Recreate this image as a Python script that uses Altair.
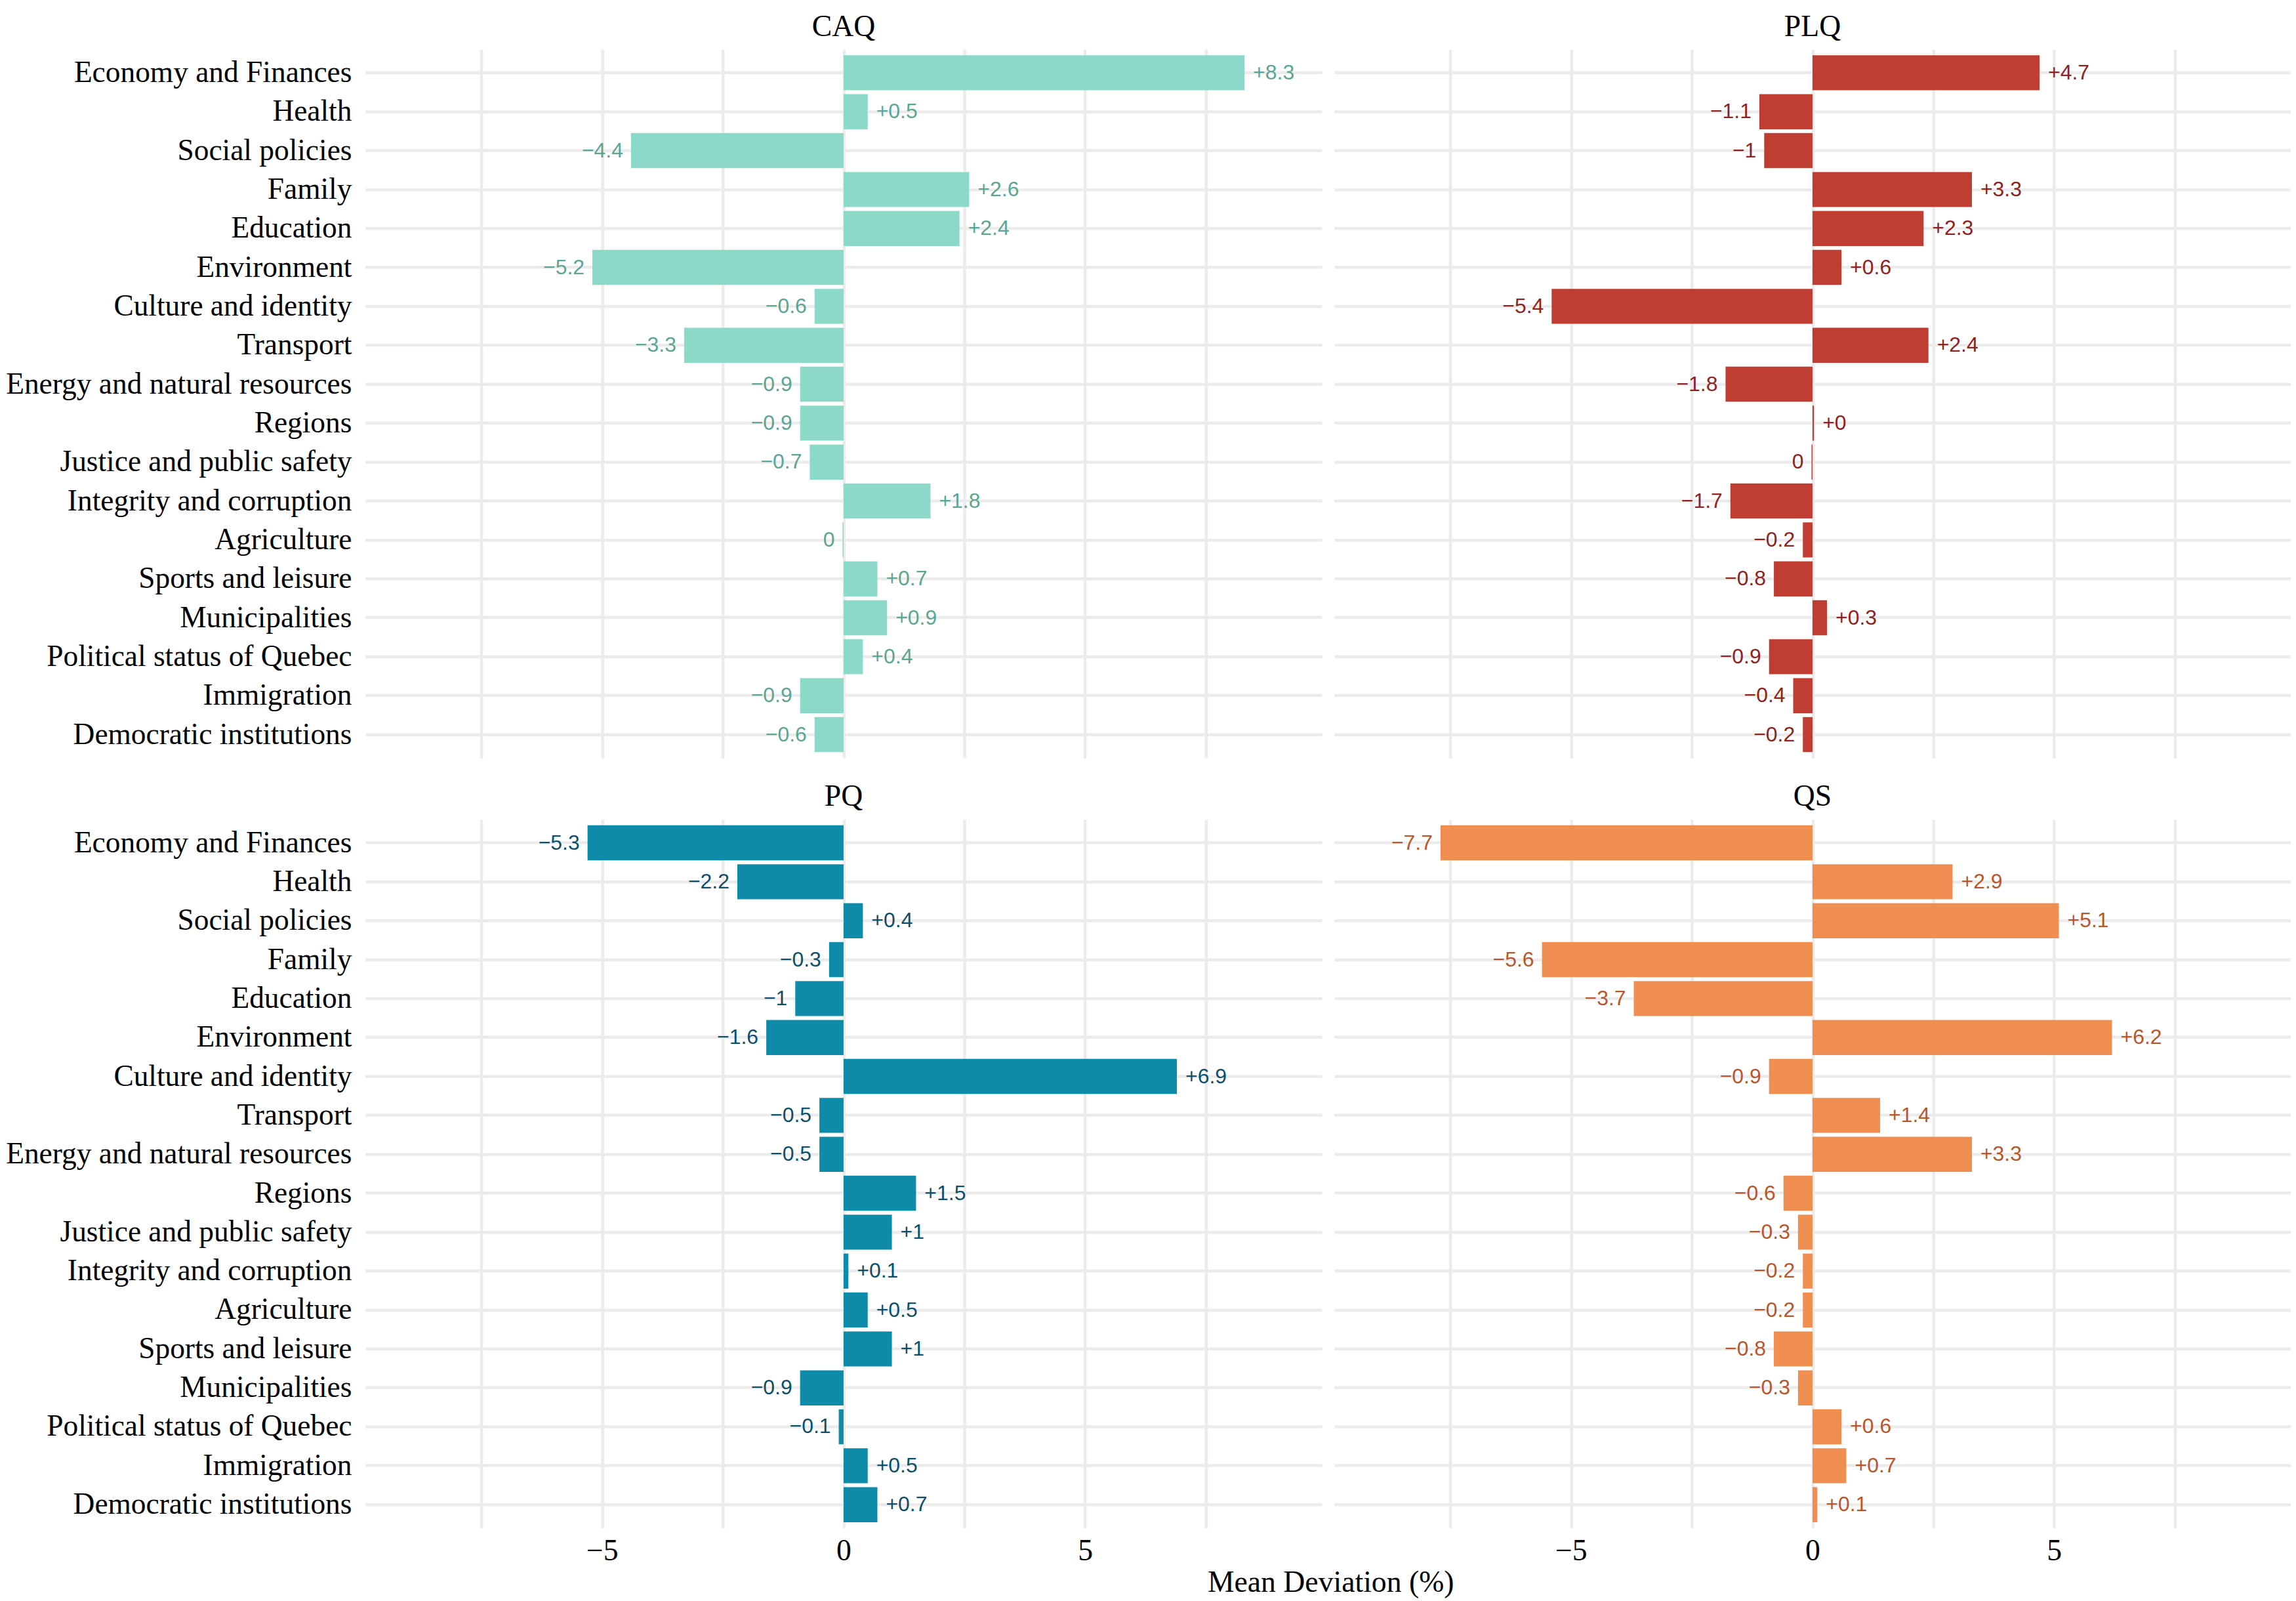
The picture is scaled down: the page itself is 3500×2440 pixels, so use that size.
import altair as alt
import pandas as pd

categories = [
    "Economy and Finances", "Health", "Social policies", "Family", "Education",
    "Environment", "Culture and identity", "Transport", "Energy and natural resources",
    "Regions", "Justice and public safety", "Integrity and corruption", "Agriculture",
    "Sports and leisure", "Municipalities", "Political status of Quebec",
    "Immigration", "Democratic institutions",
]

caq = [8.3, 0.5, -4.4, 2.6, 2.4, -5.2, -0.6, -3.3, -0.9, -0.9, -0.7, 1.8, -0.02, 0.7, 0.9, 0.4, -0.9, -0.6]
plq = [4.7, -1.1, -1.0, 3.3, 2.3, 0.6, -5.4, 2.4, -1.8, 0.03, -0.02, -1.7, -0.2, -0.8, 0.3, -0.9, -0.4, -0.2]
pq = [-5.3, -2.2, 0.4, -0.3, -1.0, -1.6, 6.9, -0.5, -0.5, 1.5, 1.0, 0.1, 0.5, 1.0, -0.9, -0.1, 0.5, 0.7]
qs = [-7.7, 2.9, 5.1, -5.6, -3.7, 6.2, -0.9, 1.4, 3.3, -0.6, -0.3, -0.2, -0.2, -0.8, -0.3, 0.6, 0.7, 0.1]

parties = ["CAQ", "PLQ", "PQ", "QS"]
series = [caq, plq, pq, qs]
bar_colors = ["#8DD9C9", "#C03D32", "#0E8BA8", "#F08E52"]
label_colors = ["#5BA595", "#8E2220", "#0B4F6B", "#B9552A"]

x_grid_values = [-7.5, -5, -2.5, 0, 2.5, 5, 7.5]

SERIF = "Liberation Serif"
SANS = "Liberation Sans"
GRID = "#EBEBEB"
PANEL_W = 1461
PANEL_H = 1082


def fmt(v):
    r = round(v, 1)
    if v > 0:
        return "+" + f"{abs(r):g}"
    if r == 0:
        return "0"
    return "\u2212" + f"{abs(r):g}"


def panel(name, values, bar_color, label_color, show_y, show_x):
    df = pd.DataFrame({
        "topic": categories,
        "value": values,
        "label": [fmt(v) for v in values],
    })
    yaxis = alt.Axis(
        title=None, labels=show_y, ticks=False, domain=False, grid=True,
        gridColor=GRID, gridWidth=4.5, bandPosition=0.5,
        labelFont=SERIF, labelFontSize=45.5, labelColor="#000000",
        labelPadding=21 if show_y else 0, labelLimit=0,
    )
    xaxis = alt.Axis(
        title=None, values=x_grid_values, labels=show_x,
        labelExpr="abs(datum.value) % 5 == 0 ? datum.label : ''",
        labelOverlap=False, ticks=False, domain=False, grid=True,
        gridColor=GRID, gridWidth=4.5,
        labelFont=SERIF, labelFontSize=45.8, labelColor="#000000",
        labelPadding=13 if show_x else 0,
    )
    y = alt.Y("topic:N", sort=categories,
              scale=alt.Scale(paddingInner=0.1, paddingOuter=0.15), axis=yaxis)
    x = alt.X("value:Q", scale=alt.Scale(domain=[-9.9, 9.9], nice=False, zero=False),
              axis=xaxis)
    base = alt.Chart(df)
    bars = base.mark_bar(color=bar_color).encode(x=x, x2=alt.datum(0), y=y)
    pos = base.transform_filter("datum.value > 0").mark_text(
        align="left", baseline="middle", dx=13, font=SANS, fontSize=32, color=label_color
    ).encode(x=x, y=y, text="label:N")
    neg = base.transform_filter("datum.value <= 0").mark_text(
        align="right", baseline="middle", dx=-12, font=SANS, fontSize=32, color=label_color
    ).encode(x=x, y=y, text="label:N")
    return alt.layer(bars, pos, neg).properties(
        width=PANEL_W, height=PANEL_H,
        title=alt.TitleParams(name, font=SERIF, fontSize=45.8, fontWeight="normal",
                              color="#000000", anchor="middle", frame="group", offset=11),
    )


p = [panel(parties[i], series[i], bar_colors[i], label_colors[i],
           show_y=(i % 2 == 0), show_x=(i >= 2)) for i in range(4)]

chart = alt.vconcat(
    alt.hconcat(p[0], p[1], spacing=19),
    alt.hconcat(p[2], p[3], spacing=19),
    spacing=36,
).properties(
    title=alt.TitleParams("Mean Deviation (%)", orient="bottom", anchor="middle", dx=279,
                          offset=4, font=SERIF, fontSize=45.8, fontWeight="normal",
                          color="#000000"),
    padding={"left": 0, "top": 7, "right": 0, "bottom": 0},
    background="#FFFFFF",
).configure_view(stroke=None)

chart.save("out.html", embed_options={"renderer": "svg", "actions": False})
